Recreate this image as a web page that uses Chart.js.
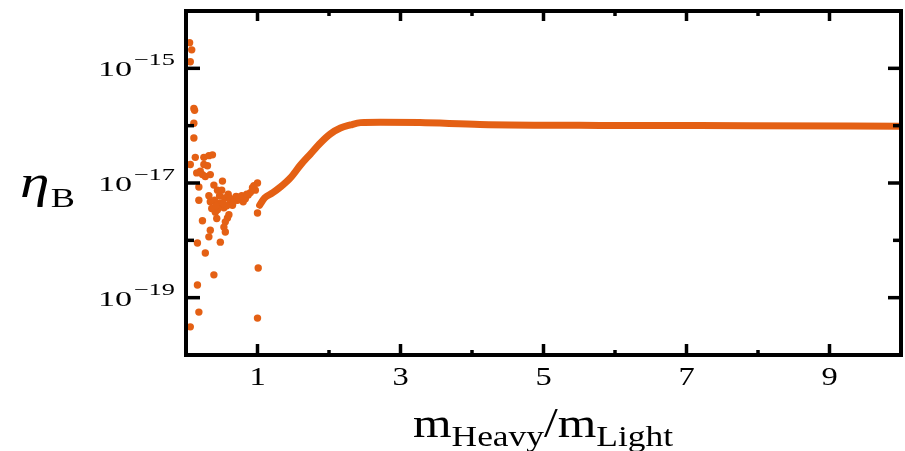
<!DOCTYPE html>
<html><head><meta charset="utf-8">
<script src="https://cdn.jsdelivr.net/npm/chart.js@4"></script>
<style>html,body{margin:0;padding:0;background:#fff}#wrap{width:905px;height:451px}</style>
</head><body><div id="wrap"><canvas id="c" width="905" height="451"></canvas></div>
<script>
// ---- data ----
const scatterX = [0.05,0.08,0.06,0.11,0.12,0.11,0.11,0.13,0.25,0.32,0.37,0.06,0.25,0.20,0.23,0.27,0.34,0.51,0.18,0.39,0.44,0.59,0.76,0.87,0.97,1.00,0.18,0.34,0.48,0.62,0.72,0.80,0.44,0.53,0.65,0.41,0.58,0.60,0.55,0.23,0.34,0.53,0.55,0.32,0.16,0.48,0.27,0.39,0.16,1.01,0.18,0.06,1.00,1.00,0.47,0.54,0.69,0.83,0.90,0.93,0.57,0.40,0.32,0.50,0.70,0.95,0.30,0.15,0.43,0.46,0.52,0.61,0.66,0.74,0.78,0.85,0.36,0.42];
const scatterY = [2.8e-15,2.1e-15,1.3e-15,2.0e-16,1.85e-16,1.1e-16,6.1e-17,2.8e-17,2.8e-17,3.0e-17,3.1e-17,2.1e-17,2.1e-17,1.6e-17,1.4e-17,1.3e-17,1.4e-17,1.08e-17,8.5e-18,9.2e-18,7.5e-18,6.4e-18,5.7e-18,6.2e-18,7.5e-18,1.0e-17,5.0e-18,4.7e-18,4.5e-18,4.7e-18,5.0e-18,4.7e-18,3.4e-18,3.7e-18,4.1e-18,3.1e-18,2.45e-18,2.8e-18,2.1e-18,2.2e-18,1.5e-18,1.7e-18,1.4e-18,1.15e-18,9.0e-19,9.3e-19,6.0e-19,2.5e-19,1.66e-19,3.3e-19,5.6e-20,3.1e-20,4.4e-20,3.0e-18,6.0e-18,5.5e-18,5.3e-18,5.3e-18,6.8e-18,8.3e-18,4.0e-18,5.0e-18,6.0e-18,7.5e-18,5.8e-18,9.0e-18,2.0e-17,1.5e-17,2.4e-18,4.2e-18,4.4e-18,5.5e-18,4.6e-18,5.6e-18,6.0e-18,6.4e-18,3.6e-18,4.0e-18];
const curveX = [1.03,1.10,1.21,1.32,1.46,1.60,1.74,1.88,2.02,2.16,2.30,2.44,2.72,3.27,4.11,5.79,7.89,10.0];
const curveY = [4.1e-18,5.5e-18,6.7e-18,8.5e-18,1.23e-17,2.05e-17,3.2e-17,5.0e-17,7.2e-17,9.1e-17,1.03e-16,1.13e-16,1.15e-16,1.13e-16,1.05e-16,1.01e-16,1.0e-16,9.8e-17];
const xMajorTicks = [1,3,5,7,9];
const xMinorTicks = [2,4,6,8];
const xTickLabels = ['1','3','5','7','9'];
const yMajorExp = [-15,-17,-19];
const yMinorExp = [-16,-18];
const yTickLabels = ['\u221215','\u221217','\u221219'];

const ORANGE = 'rgb(228,96,20)';
const SERIF = '"Liberation Serif","DejaVu Serif",serif';

function drawRich(ctx, parts, anchorX, baseline, align, opt) {
  const widths = parts.map(p => { ctx.font = p.font; return ctx.measureText(p.text).width + (p.gap||0); });
  const total = widths.reduce((a,b)=>a+b,0);
  const scale = opt.target ? opt.target/total : opt.scale;
  const w = total*scale;
  const x0 = align==='right' ? anchorX - w : (align==='center' ? anchorX - w/2 : anchorX);
  ctx.save();
  ctx.translate(x0, baseline);
  ctx.scale(scale,1);
  ctx.fillStyle = '#000';
  ctx.textBaseline = 'alphabetic';
  ctx.textAlign = 'left';
  let cx = 0;
  parts.forEach((p,i)=>{ ctx.font = p.font; ctx.fillText(p.text, cx, p.dy||0); cx += widths[i]; });
  ctx.restore();
}

const framePlugin = {
  id:'frame',
  afterDatasetsDraw(chart){
    const {ctx, chartArea:a, scales:{x,y}} = chart;
    ctx.save();
    ctx.strokeStyle = '#000';
    ctx.lineWidth = 3.5;
    const seg=(x1,y1,x2,y2)=>{ctx.beginPath();ctx.moveTo(x1,y1);ctx.lineTo(x2,y2);ctx.stroke();};
    xMajorTicks.forEach(v=>{const px=x.getPixelForValue(v); seg(px,a.bottom,px,a.bottom-11); seg(px,a.top,px,a.top+10);});
    xMinorTicks.forEach(v=>{const px=x.getPixelForValue(v); seg(px,a.bottom,px,a.bottom-5); seg(px,a.top,px,a.top+5);});
    yMajorExp.forEach(e=>{const py=y.getPixelForValue(Math.pow(10,e)); seg(a.left,py,a.left+14,py); seg(a.right,py,a.right-13,py);});
    yMinorExp.forEach(e=>{const py=y.getPixelForValue(Math.pow(10,e)); seg(a.left,py,a.left+8,py); seg(a.right,py,a.right-8,py);});
    ctx.lineWidth = 4;
    ctx.strokeRect(a.left, a.top, a.right-a.left, a.bottom-a.top);
    ctx.restore();
  },
  afterDraw(chart){
    const {ctx, chartArea:a, scales:{x,y}} = chart;
    xMajorTicks.forEach((v,i)=>{
      drawRich(ctx,[{text:xTickLabels[i],font:'25px '+SERIF}], x.getPixelForValue(v), 385, 'center', {scale:1.3});
    });
    yMajorExp.forEach((e,i)=>{
      const py=y.getPixelForValue(Math.pow(10,e));
      drawRich(ctx,[{text:'10',font:'22px '+SERIF,gap:1},{text:yTickLabels[i],font:'17px '+SERIF,dy:-11}], 175, py+8, 'right', {target:77});
    });
    drawRich(ctx,[
      {text:'m',font:'42px '+SERIF},
      {text:'Heavy',font:'30px '+SERIF,dy:9},
      {text:'/',font:'42px '+SERIF},
      {text:'m',font:'42px '+SERIF},
      {text:'Light',font:'30px '+SERIF,dy:9}
    ], 413, 437, 'left', {target:260});
    drawRich(ctx,[
      {text:'\u03B7',font:'italic 46px '+SERIF,gap:1},
      {text:'B',font:'28px '+SERIF,dy:10}
    ], 20, 197, 'left', {target:55});
  }
};

const curveData = curveX.map((v,i)=>({x:v,y:curveY[i]}));
const scatterData = scatterX.map((v,i)=>({x:v,y:scatterY[i]}));

new Chart(document.getElementById('c').getContext('2d'), {
  type:'scatter',
  data:{datasets:[
    {data:curveData, showLine:true, borderColor:ORANGE, borderWidth:7, pointRadius:0, cubicInterpolationMode:'monotone', borderCapStyle:'round', fill:false},
    {data:scatterData, showLine:false, pointRadius:3.7, backgroundColor:ORANGE, borderWidth:0}
  ]},
  options:{
    responsive:false, animation:false, devicePixelRatio:1,
    layout:{padding:{left:186, top:11, right:4, bottom:96}},
    plugins:{legend:{display:false}, tooltip:{enabled:false}},
    scales:{
      x:{type:'linear', min:0, max:10, display:false},
      y:{type:'logarithmic', min:1e-20, max:1e-14, display:false}
    }
  },
  plugins:[framePlugin]
});
</script>
</body></html>
